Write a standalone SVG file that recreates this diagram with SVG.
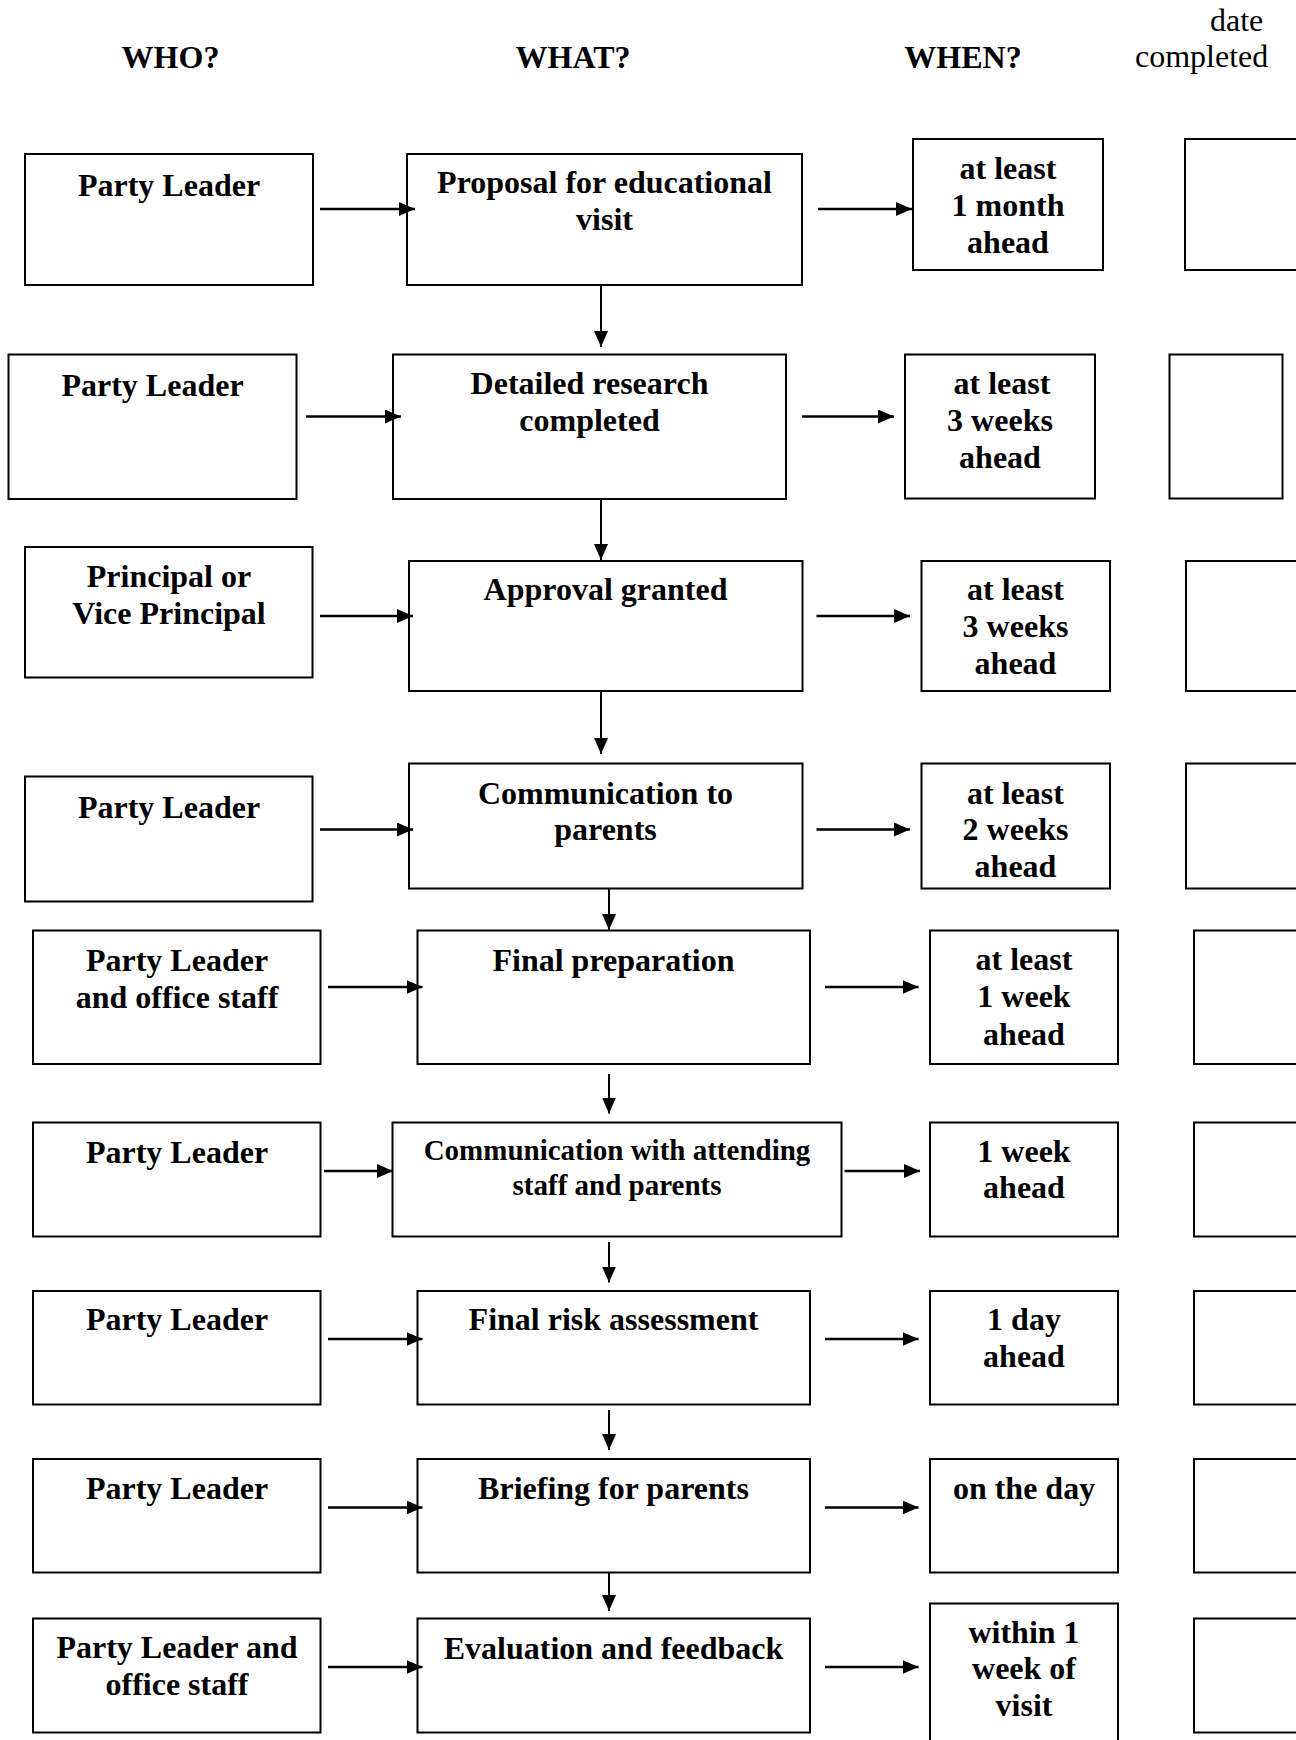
<svg xmlns="http://www.w3.org/2000/svg" width="1296" height="1740" viewBox="0 0 1296 1740">
  <defs>
    <marker id="head" markerUnits="userSpaceOnUse" markerWidth="16" markerHeight="14" refX="16" refY="7" orient="auto">
      <path d="M0,0 L16,7 L0,14 z" fill="#000"/>
    </marker>
  </defs>
  <style>
    text { font-family: "Liberation Serif", "Times New Roman", serif; fill: #000; }
    .hd { font-size: 32px; font-weight: bold; text-anchor: middle; }
    .hr { font-size: 32px; }
    .box rect { fill: #fff; stroke: #000; stroke-width: 2; }
    .box text { font-size: 32px; font-weight: bold; text-anchor: middle; }
    .box text.sm { font-size: 29px; }
    .h { stroke: #000; stroke-width: 2.6; fill: none; marker-end: url(#head); }
    .v { stroke: #000; stroke-width: 2; fill: none; marker-end: url(#head); }
  </style>
  <rect width="1296" height="1740" fill="#fff"/>

  <!-- column headings -->
  <g id="headings">
    <text class="hd" x="170.5" y="68">WHO?</text>
    <text class="hd" x="573" y="68">WHAT?</text>
    <text class="hd" x="963" y="68">WHEN?</text>
    <text class="hr" x="1210" y="31">date</text>
    <text class="hr" x="1135" y="67">completed</text>
  </g>

  <!-- row 1 -->
  <g id="who1" class="box"><rect x="25" y="154" width="288" height="131"/><text x="169" y="196">Party Leader</text></g>
  <g id="what1" class="box"><rect x="407" y="154" width="395" height="131"/><text x="604.5" y="193">Proposal for educational</text><text x="604.5" y="230">visit</text></g>
  <g id="when1" class="box"><rect x="913" y="139" width="190" height="131"/><text x="1008" y="179">at least</text><text x="1008" y="216">1 month</text><text x="1008" y="253">ahead</text></g>
  <g id="date1" class="box"><rect x="1185" y="139" width="130" height="131"/></g>

  <!-- row 2 -->
  <g id="who2" class="box"><rect x="8.5" y="354.5" width="288" height="144.5"/><text x="152.5" y="396">Party Leader</text></g>
  <g id="what2" class="box"><rect x="393" y="354.5" width="393" height="144.5"/><text x="589.5" y="394">Detailed research</text><text x="589.5" y="431">completed</text></g>
  <g id="when2" class="box"><rect x="905" y="354.5" width="190" height="144"/><text x="1002" y="394">at least</text><text x="1000" y="431">3 weeks</text><text x="1000" y="468">ahead</text></g>
  <g id="date2" class="box"><rect x="1169.5" y="354.5" width="113" height="144"/></g>

  <!-- row 3 -->
  <g id="who3" class="box"><rect x="25" y="547" width="287.5" height="130.5"/><text x="169" y="587">Principal or</text><text x="169" y="623.5">Vice Principal</text></g>
  <g id="what3" class="box"><rect x="409" y="561" width="393.5" height="130"/><text x="605.5" y="600">Approval granted</text></g>
  <g id="when3" class="box"><rect x="921.5" y="561" width="188.5" height="130"/><text x="1015.5" y="600">at least</text><text x="1015.5" y="637">3 weeks</text><text x="1015.5" y="673.5">ahead</text></g>
  <g id="date3" class="box"><rect x="1186" y="561" width="130" height="130"/></g>

  <!-- row 4 -->
  <g id="who4" class="box"><rect x="25" y="776.5" width="287.5" height="125"/><text x="169" y="818">Party Leader</text></g>
  <g id="what4" class="box"><rect x="409" y="763.5" width="393.5" height="125"/><text x="605.5" y="803.5">Communication to</text><text x="605.5" y="840">parents</text></g>
  <g id="when4" class="box"><rect x="921.5" y="763.5" width="188.5" height="125"/><text x="1015.5" y="803.5">at least</text><text x="1015.5" y="840">2 weeks</text><text x="1015.5" y="876.5">ahead</text></g>
  <g id="date4" class="box"><rect x="1186" y="763.5" width="130" height="125"/></g>

  <!-- row 5 -->
  <g id="who5" class="box"><rect x="33" y="930.5" width="287.5" height="133.5"/><text x="177" y="970.5">Party Leader</text><text x="177" y="1008">and office staff</text></g>
  <g id="what5" class="box"><rect x="417.5" y="930.5" width="392.5" height="133.5"/><text x="613.5" y="971">Final preparation</text></g>
  <g id="when5" class="box"><rect x="930" y="930.5" width="188" height="133.5"/><text x="1024" y="970">at least</text><text x="1024" y="1007">1 week</text><text x="1024" y="1044.5">ahead</text></g>
  <g id="date5" class="box"><rect x="1194" y="930.5" width="130" height="133.5"/></g>

  <!-- row 6 -->
  <g id="who6" class="box"><rect x="33" y="1122.5" width="287.5" height="114"/><text x="177" y="1163">Party Leader</text></g>
  <g id="what6" class="box"><rect x="392.5" y="1122.5" width="449" height="114"/><text class="sm" x="617" y="1160">Communication with attending</text><text class="sm" x="617" y="1195">staff and parents</text></g>
  <g id="when6" class="box"><rect x="930" y="1122.5" width="188" height="114"/><text x="1024" y="1161.5">1 week</text><text x="1024" y="1198">ahead</text></g>
  <g id="date6" class="box"><rect x="1194" y="1122.5" width="130" height="114"/></g>

  <!-- row 7 -->
  <g id="who7" class="box"><rect x="33" y="1291" width="287.5" height="113.5"/><text x="177" y="1330">Party Leader</text></g>
  <g id="what7" class="box"><rect x="417.5" y="1291" width="392.5" height="113.5"/><text x="613.5" y="1330">Final risk assessment</text></g>
  <g id="when7" class="box"><rect x="930" y="1291" width="188" height="113.5"/><text x="1024" y="1329.5">1 day</text><text x="1024" y="1366.5">ahead</text></g>
  <g id="date7" class="box"><rect x="1194" y="1291" width="130" height="113.5"/></g>

  <!-- row 8 -->
  <g id="who8" class="box"><rect x="33" y="1459" width="287.5" height="113.5"/><text x="177" y="1499">Party Leader</text></g>
  <g id="what8" class="box"><rect x="417.5" y="1459" width="392.5" height="113.5"/><text x="613.5" y="1499">Briefing for parents</text></g>
  <g id="when8" class="box"><rect x="930" y="1459" width="188" height="113.5"/><text x="1024" y="1499">on the day</text></g>
  <g id="date8" class="box"><rect x="1194" y="1459" width="130" height="113.5"/></g>

  <!-- row 9 -->
  <g id="who9" class="box"><rect x="33" y="1618.5" width="287.5" height="114"/><text x="177" y="1657.5">Party Leader and</text><text x="177" y="1695">office staff</text></g>
  <g id="what9" class="box"><rect x="417.5" y="1618.5" width="392.5" height="114"/><text x="613.5" y="1658.5">Evaluation and feedback</text></g>
  <g id="when9" class="box"><rect x="930" y="1603.5" width="188" height="150"/><text x="1024" y="1642.5">within 1</text><text x="1024" y="1679">week of</text><text x="1024" y="1716">visit</text></g>
  <g id="date9" class="box"><rect x="1194" y="1618.5" width="130" height="114"/></g>

  <!-- connectors -->
  <g id="connectors">
    <line class="h" x1="320" y1="209" x2="415" y2="209"/>
    <line class="h" x1="818" y1="209" x2="912" y2="209"/>
    <line class="v" x1="601" y1="285" x2="601" y2="347"/>

    <line class="h" x1="306" y1="416.5" x2="401" y2="416.5"/>
    <line class="h" x1="802" y1="416.5" x2="894" y2="416.5"/>
    <line class="v" x1="601" y1="499" x2="601" y2="560"/>

    <line class="h" x1="320" y1="616" x2="413" y2="616"/>
    <line class="h" x1="816.5" y1="616" x2="910" y2="616"/>
    <line class="v" x1="601" y1="691" x2="601" y2="754"/>

    <line class="h" x1="320" y1="829.5" x2="413" y2="829.5"/>
    <line class="h" x1="816.5" y1="829.5" x2="910" y2="829.5"/>
    <line class="v" x1="609" y1="888.5" x2="609" y2="930"/>

    <line class="h" x1="328" y1="987" x2="422.5" y2="987"/>
    <line class="h" x1="825" y1="987" x2="918.5" y2="987"/>
    <line class="v" x1="609" y1="1074" x2="609" y2="1113.5"/>

    <line class="h" x1="324" y1="1171" x2="393" y2="1171"/>
    <line class="h" x1="844.5" y1="1171" x2="920" y2="1171"/>
    <line class="v" x1="609" y1="1242" x2="609" y2="1282.5"/>

    <line class="h" x1="328" y1="1339" x2="422.5" y2="1339"/>
    <line class="h" x1="825" y1="1339" x2="918.5" y2="1339"/>
    <line class="v" x1="609" y1="1410" x2="609" y2="1450"/>

    <line class="h" x1="328" y1="1507.5" x2="422.5" y2="1507.5"/>
    <line class="h" x1="825" y1="1507.5" x2="918.5" y2="1507.5"/>
    <line class="v" x1="609" y1="1572.5" x2="609" y2="1611"/>

    <line class="h" x1="328" y1="1667" x2="422.5" y2="1667"/>
    <line class="h" x1="825" y1="1667" x2="918.5" y2="1667"/>
  </g>
</svg>
